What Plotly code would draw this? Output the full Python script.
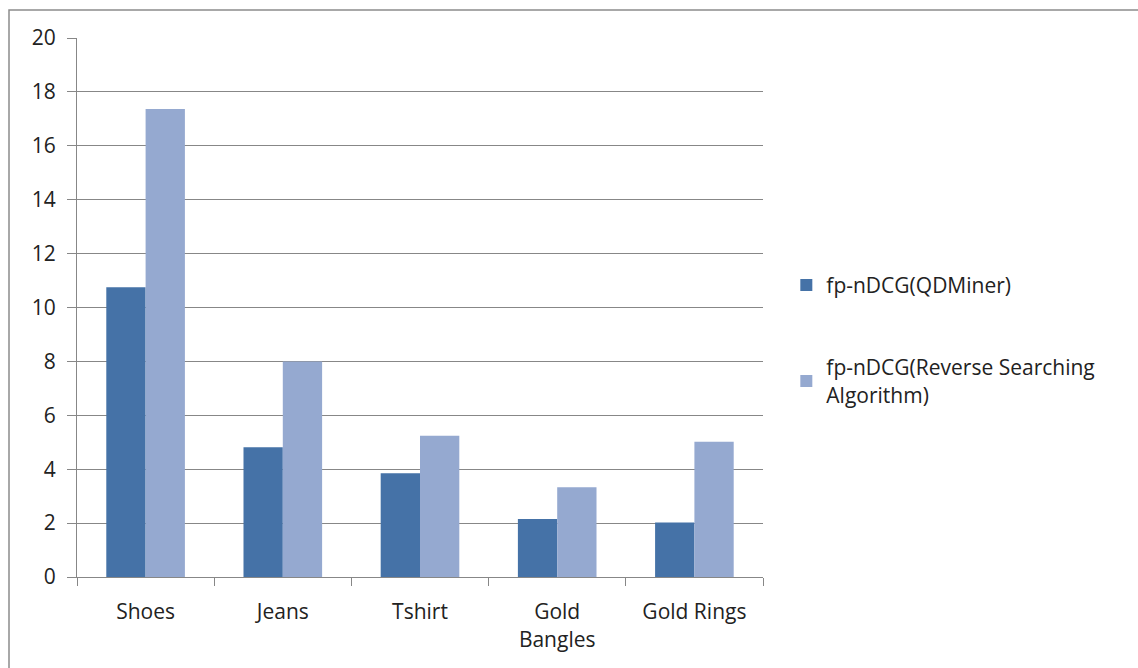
import plotly.graph_objects as go

categories = ["Shoes", "Jeans", "Tshirt", "Gold<br>Bangles", "Gold Rings"]
qdminer = [10.75, 4.81, 3.85, 2.15, 2.02]
reverse = [17.37, 8.0, 5.24, 3.33, 5.02]
series_names = ["fp-nDCG(QDMiner)", "fp-nDCG(Reverse Searching<br>Algorithm)"]
y_ticks = [0, 2, 4, 6, 8, 10, 12, 14, 16, 18, 20]

FONT = "Open Sans"
FS = 21
GRID = "#878787"

fig = go.Figure()
fig.add_trace(go.Bar(x=categories, y=qdminer, name=series_names[0],
                     marker=dict(color="#4572A7", line=dict(width=0)),
                     legendgroup="a"))
fig.add_trace(go.Bar(x=categories, y=reverse, name=series_names[1],
                     marker=dict(color="#95A9D0", line=dict(width=0)),
                     legendgroup="b"))

fig.update_layout(
    width=1138, height=668,
    margin=dict(l=77, r=375, t=38, b=91),
    paper_bgcolor="white", plot_bgcolor="white",
    barmode="group", bargap=0.427, bargroupgap=0,
    font=dict(family=FONT, size=FS, color="#222"),
    showlegend=True,
    legend=dict(x=1.034, y=0.44, xanchor="left", yanchor="middle",
                traceorder="grouped", tracegroupgap=52,
                font=dict(family=FONT, size=FS, color="#222"),
                bgcolor="rgba(0,0,0,0)", itemwidth=30),
    xaxis=dict(showgrid=False, showline=True, linecolor=GRID, linewidth=1,
               ticks="outside", tickson="boundaries", ticklen=8, tickcolor=GRID,
               ticklabelstandoff=16, tickfont=dict(family=FONT, size=FS, color="#222"),
               mirror=False),
    yaxis=dict(range=[0, 20], tickvals=y_ticks, showgrid=True, gridcolor=GRID, gridwidth=1,
               showline=True, linecolor=GRID, linewidth=1,
               ticks="outside", ticklen=9, tickcolor=GRID, ticklabelstandoff=7,
               zeroline=False, tickfont=dict(family=FONT, size=FS, color="#222")),
    shapes=[dict(type="rect", xref="paper", yref="paper",
                 x0=(9 - 77) / 686, x1=2.0, y0=-1.0, y1=(577 - 10) / 539,
                 line=dict(color="#8c8c8c", width=1.5), fillcolor="rgba(0,0,0,0)",
                 layer="below")],
)

fig.write_html("out.html")
